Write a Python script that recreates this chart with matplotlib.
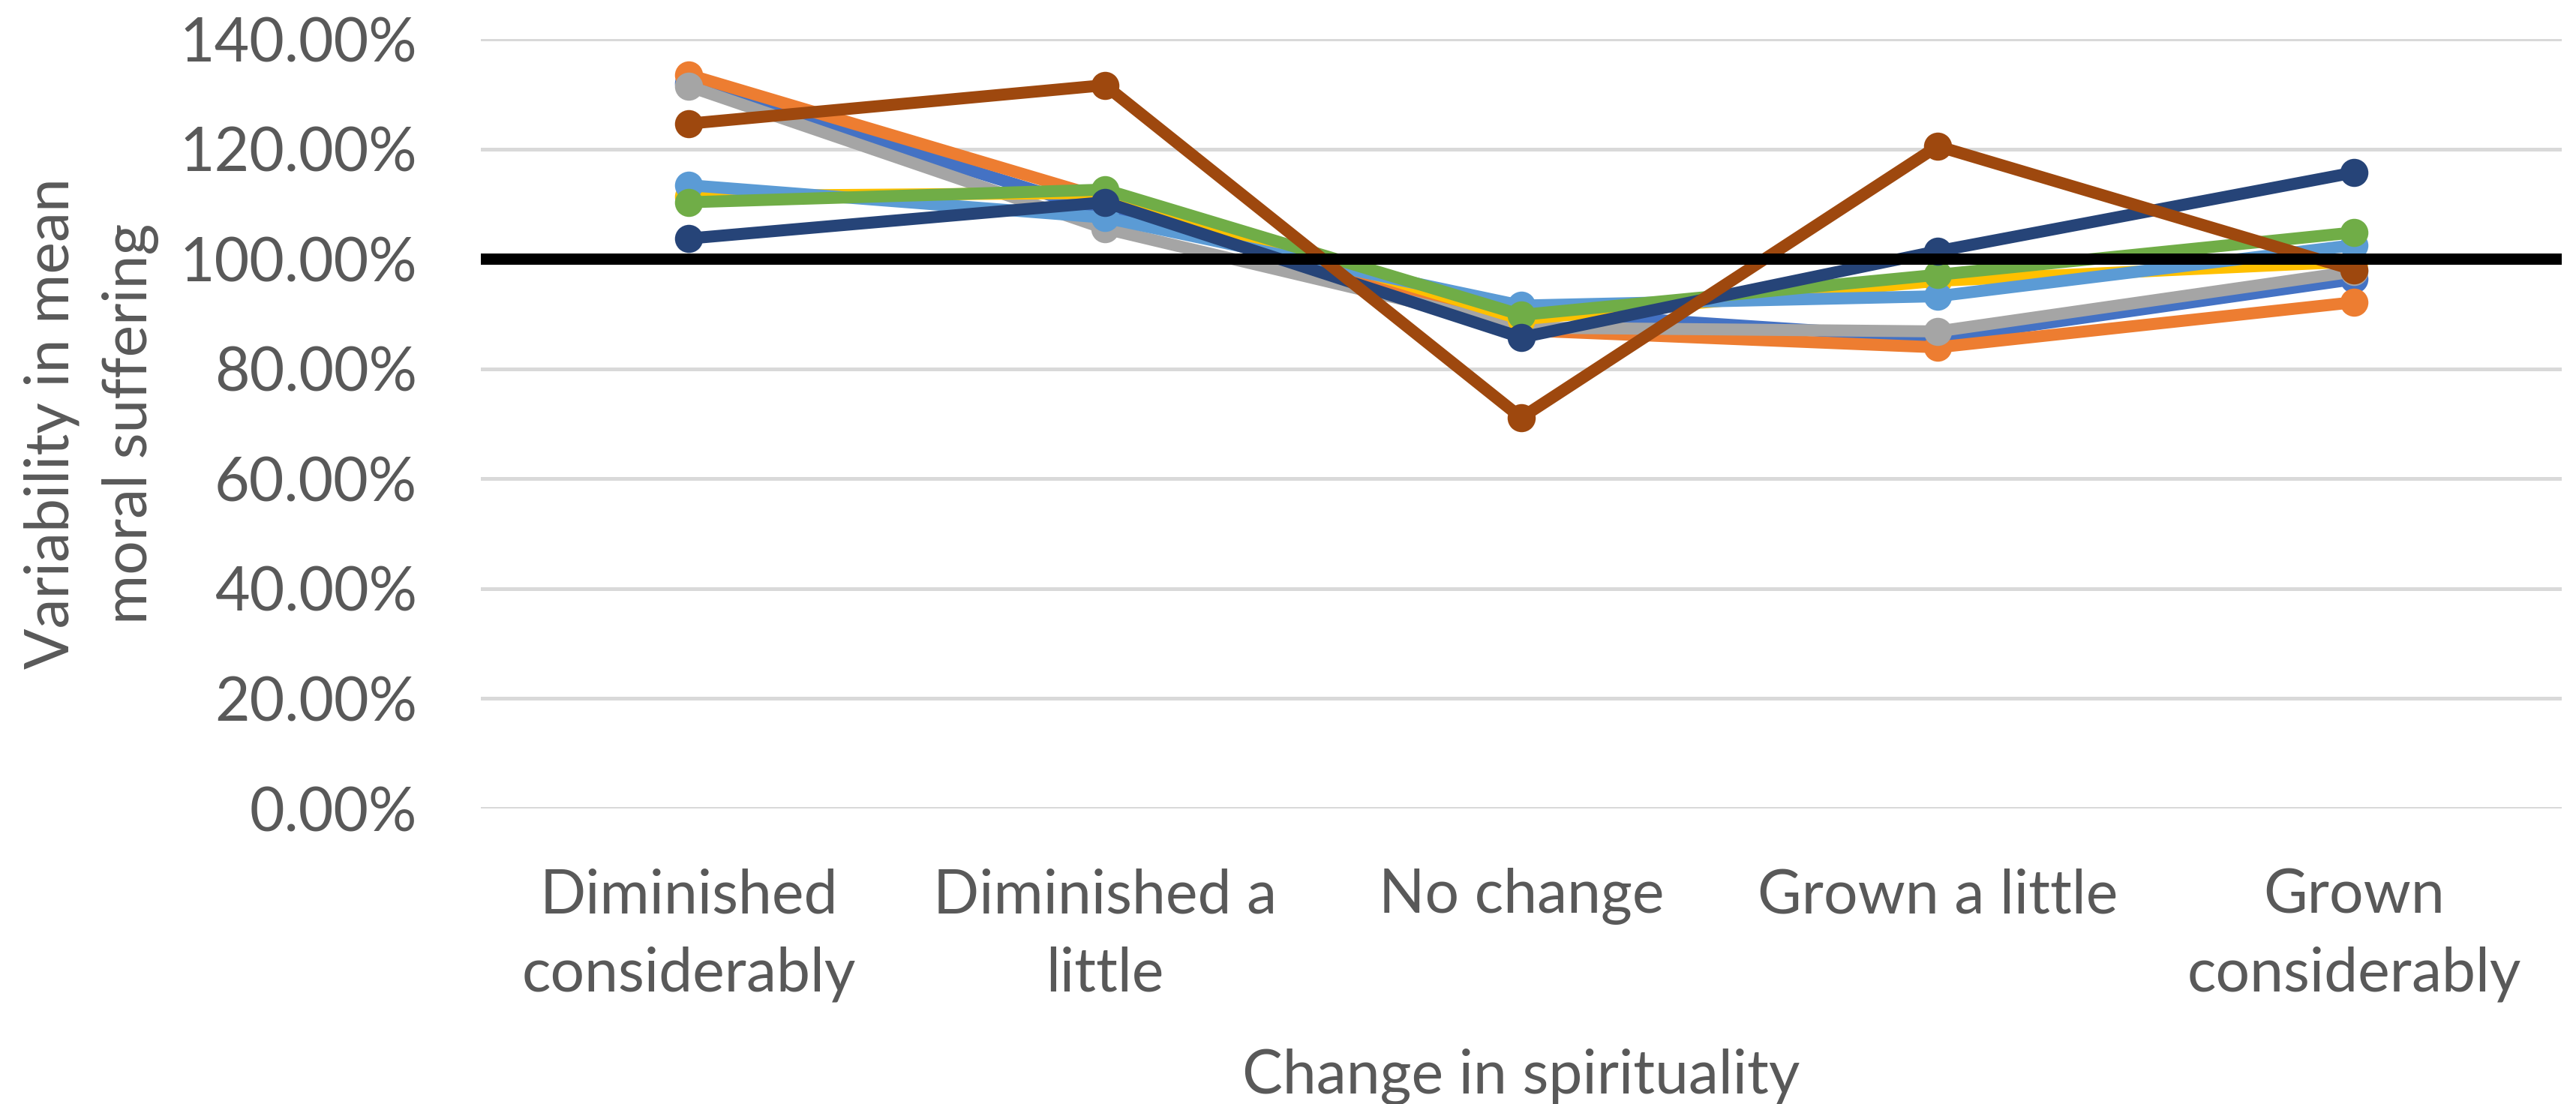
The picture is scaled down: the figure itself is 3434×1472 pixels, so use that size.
import matplotlib
matplotlib.use("Agg")
import matplotlib.pyplot as plt
from matplotlib.ticker import FuncFormatter, MultipleLocator

plt.rcParams['font.family'] = ['Lato', 'DejaVu Sans']

categories = ["Diminished\nconsiderably", "Diminished a\nlittle", "No change",
              "Grown a little", "Grown\nconsiderably"]

# Mean moral suffering relative to the overall mean (%), one list per group
group_1 = [132.0, 108.5, 90.5, 85.5, 96.3]
group_2 = [133.5, 111.0, 87.0, 83.9, 92.1]
group_3 = [131.4, 105.5, 87.5, 86.8, 97.7]
group_4 = [111.4, 112.0, 89.0, 96.0, 99.5]
group_5 = [113.4, 107.5, 91.5, 93.2, 102.5]
group_6 = [110.3, 112.6, 89.8, 97.1, 104.8]
group_7 = [103.7, 110.3, 85.7, 101.4, 115.7]
group_8 = [124.6, 131.6, 71.1, 120.5, 98.0]

series = [group_1, group_2, group_3, group_4, group_5, group_6, group_7, group_8]
colors = ["#4472C4", "#ED7D31", "#A5A5A5", "#FFC000",
          "#5B9BD5", "#70AD47", "#264478", "#9E480E"]

reference_level = 100.0
y_ticks_max = 140
y_step = 20

text_color = "#595959"
font_size = 58

fig = plt.figure(figsize=(34.34, 14.72), dpi=100)
ax = fig.add_axes([0.18652, 0.26766, 0.80809, 0.69701])

x = list(range(len(categories)))

ax.set_xlim(-0.5, len(categories) - 0.5)
ax.set_ylim(0, y_ticks_max / 100)

ax.yaxis.set_major_locator(MultipleLocator(y_step / 100))
ax.yaxis.set_major_formatter(FuncFormatter(lambda v, p: f"{v * 100:.2f}%"))
ax.grid(axis='y', color="#D9D9D9", linewidth=3.6, zorder=0)
ax.set_axisbelow(True)

for vals, c in zip(series, colors):
    ax.plot(x, [v / 100 for v in vals], color=c, linewidth=11.5,
            marker='o', markersize=27, markeredgewidth=0,
            solid_capstyle='round', zorder=3)

ax.axhline(reference_level / 100, color="black", linewidth=10.8, zorder=5)

ax.set_xticks(x)
ax.set_xticklabels(categories, linespacing=1.5)
for s in ax.spines.values():
    s.set_visible(False)
ax.tick_params(axis='both', length=0, labelsize=font_size, labelcolor=text_color)
ax.tick_params(axis='x', pad=57)
ax.tick_params(axis='y', pad=60.8)

ax.set_xlabel("Change in spirituality", fontsize=font_size, color=text_color)
ax.xaxis.label.set_verticalalignment('baseline')
ax.xaxis.set_label_coords(0.5, -0.3704)

fig.text(0.0355, 0.5 * (0.26766 + 0.96467), "Variability in mean\nmoral suffering",
         rotation=90, ha='center', va='center', fontsize=font_size,
         color=text_color, linespacing=1.5, multialignment='center')

fig.savefig("out.png", dpi=100, facecolor="white")
